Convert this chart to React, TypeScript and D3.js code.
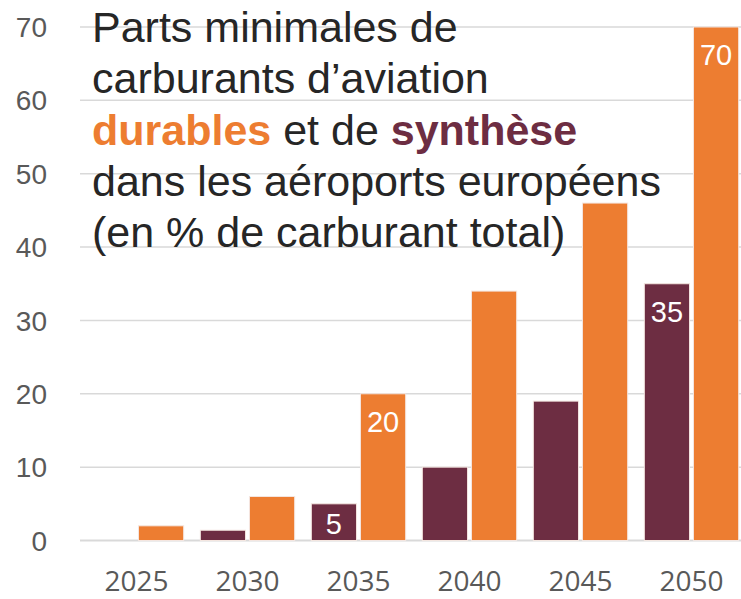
import React from "react";
import * as d3 from "d3";

const years = ["2025", "2030", "2035", "2040", "2045", "2050"];
const synthese = [0, 1.4, 5, 10, 19, 35];
const durables = [2, 6, 20, 34, 46, 70];
const yTicks = [0, 10, 20, 30, 40, 50, 60, 70];
const labeledSynthese = [false, false, true, false, false, true];
const labeledDurables = [false, false, true, false, false, true];

const W = 741;
const H = 599;
const ORANGE = "#ED7D31";
const PURPLE = "#6D2D42";
const GRID = "#D9D9D9";
const TICK = "#595959";

export default function App() {
  const x = d3.scaleBand<string>().domain(years).range([81, 747]).paddingInner(0.15).paddingOuter(0.075);
  const sub = d3.scaleBand<string>().domain(["s", "d"]).range([0, x.bandwidth()]).paddingInner(0.08);
  const y = d3.scaleLinear().domain([0, 70]).range([540.5, 27]);

  const series = [
    { key: "s", values: synthese, color: PURPLE, labeled: labeledSynthese },
    { key: "d", values: durables, color: ORANGE, labeled: labeledDurables },
  ];

  return (
    <svg width={W} height={H} style={{ position: "absolute", left: 0, top: 0, background: "#fff" }}>
      {yTicks.map((t) => (
        <g key={t}>
          <line x1={80} x2={W} y1={y(t)} y2={y(t)} stroke={GRID} strokeWidth={t === 0 ? 2 : 1.5} />
          <text x={47} y={y(t)} dy="0.36em" textAnchor="end" fontFamily="Liberation Sans, Arial, sans-serif" fontSize={28} fill={TICK}>
            {t}
          </text>
        </g>
      ))}
      {series.map((s) =>
        years.map((yr, i) => {
          const v = s.values[i];
          if (v <= 0) return null;
          const bx = (x(yr) as number) + (sub(s.key) as number);
          const bw = sub.bandwidth();
          const top = y(v);
          return (
            <g key={s.key + yr}>
              <rect x={bx} y={top} width={bw} height={y(0) - top} fill={s.color} stroke="#F4E6E0" strokeWidth={1} />
              {s.labeled[i] && (
                <text
                  x={bx + bw / 2}
                  y={Math.min(top + 38, y(0) - 7)}
                  textAnchor="middle"
                  fontFamily="Liberation Sans, Arial, sans-serif"
                  fontSize={29}
                  fill="#fff"
                >
                  {v}
                </text>
              )}
            </g>
          );
        })
      )}
      {years.map((yr) => (
        <text
          key={yr}
          x={(x(yr) as number) + x.bandwidth() / 2}
          y={591}
          textAnchor="middle"
          fontFamily="Open Sans, sans-serif"
          fontSize={28}
          fill={TICK}
        >
          {yr}
        </text>
      ))}
      <g fontFamily="Liberation Sans, Arial, sans-serif" fontSize={43} fill="#262626">
        <text x={92} y={42}>Parts minimales de</text>
        <text x={92} y={93}>carburants d’aviation</text>
        <text x={92} y={145}>
          <tspan fill={ORANGE} fontWeight="bold">durables</tspan>
          <tspan> et de </tspan>
          <tspan fill={PURPLE} fontWeight="bold">synthèse</tspan>
        </text>
        <text x={92} y={196}>dans les aéroports européens</text>
        <text x={92} y={247}>(en % de carburant total)</text>
      </g>
    </svg>
  );
}
